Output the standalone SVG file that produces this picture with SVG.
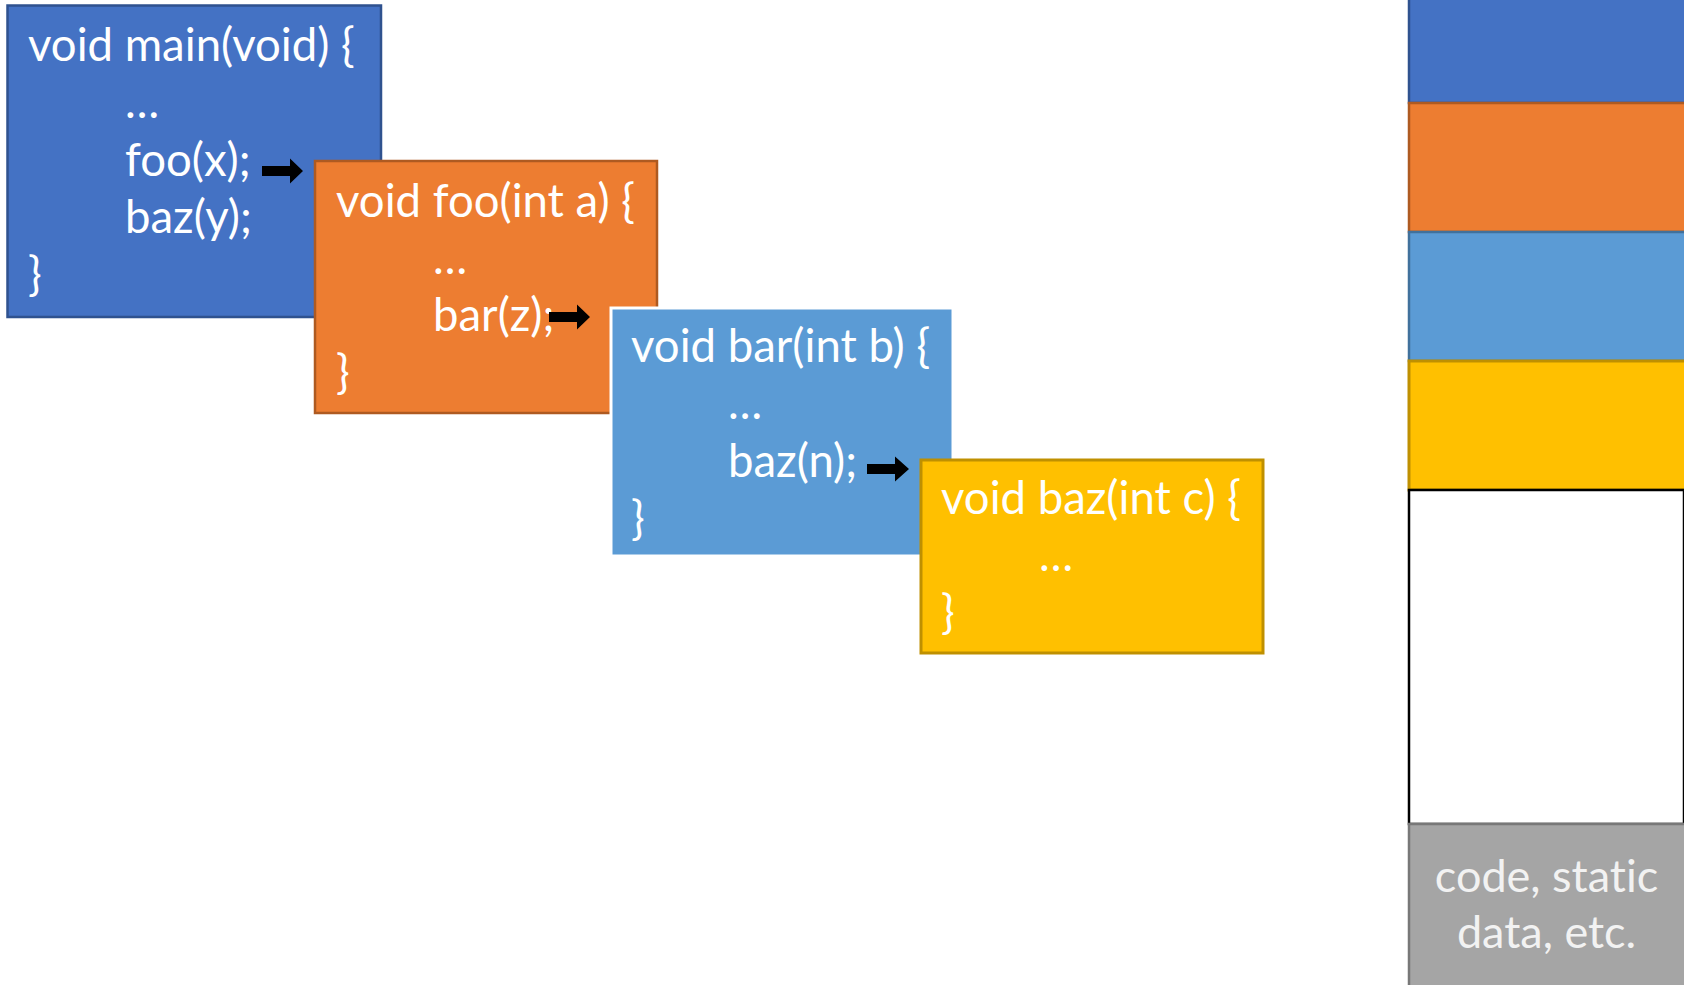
<svg xmlns="http://www.w3.org/2000/svg" width="1684" height="985" viewBox="0 0 1684 985">
  <defs>
    <style>
      .code { font-family: Lato, "Open Sans", "Liberation Sans", sans-serif; font-size: 45.5px; fill: #ffffff; font-variant-ligatures: none; }
      .label { font-family: Lato, "Open Sans", "Liberation Sans", sans-serif; font-size: 45px; fill: #f2f2f2; text-anchor: middle; font-variant-ligatures: none; }
      .main { fill: #4472C4; stroke: #2F528F; stroke-width: 2.5; }
      .foo { fill: #ED7D31; stroke: #AE5A21; stroke-width: 2.5; }
      .bar { fill: #5B9BD5; stroke: #ffffff; stroke-width: 3; }
      .bar-stack { fill: #5B9BD5; stroke: #41719C; stroke-width: 2.5; }
      .baz { fill: #FFC000; stroke: #BF9000; stroke-width: 3; }
      .free { fill: #ffffff; stroke: #000000; stroke-width: 2.5; }
      .static { fill: #A5A5A5; stroke: #787878; stroke-width: 2.5; }
      .call { fill: #000000; }
    </style>
  </defs>

  <rect width="1684" height="985" fill="#ffffff"/>

  <!-- call chain: one frame of source per function -->
  <g id="main-frame">
    <rect class="main" x="7.5" y="5.5" width="373.5" height="311.5"/>
    <text class="code" x="28" y="61">void main(void) {</text>
    <text class="code" x="125" y="118">…</text>
    <text class="code" x="125" y="176">foo(x);</text>
    <text class="code" x="125" y="233">baz(y);</text>
    <text class="code" x="28" y="290">}</text>
  </g>

  <g id="foo-frame">
    <rect class="foo" x="315" y="161" width="342" height="252"/>
    <text class="code" x="336" y="217">void foo(int a) {</text>
    <text class="code" x="433" y="274">…</text>
    <text class="code" x="433" y="331">bar(z);</text>
    <text class="code" x="336" y="388">}</text>
  </g>

  <g id="bar-frame">
    <rect class="bar" x="611" y="308" width="342" height="248"/>
    <text class="code" x="631" y="362">void bar(int b) {</text>
    <text class="code" x="728" y="419">…</text>
    <text class="code" x="728" y="477">baz(n);</text>
    <text class="code" x="631" y="534">}</text>
  </g>

  <g id="baz-frame">
    <rect class="baz" x="921" y="460" width="342" height="193"/>
    <text class="code" x="941" y="514">void baz(int c) {</text>
    <text class="code" x="1039" y="571">…</text>
    <text class="code" x="941" y="628">}</text>
  </g>

  <!-- call arrows -->
  <g id="connectors">
    <path class="call" d="M262,166 h28 v-7.5 l13,12.5 l-13,12.5 v-7.5 h-28 z"/>
    <path class="call" d="M549,312 h28 v-7.5 l13,12.5 l-13,12.5 v-7.5 h-28 z"/>
    <path class="call" d="M867,464 h28 v-7.5 l14,12.5 l-14,12.5 v-7.5 h-28 z"/>
  </g>

  <!-- memory column: stack frames on top, free space, then code/static data -->
  <g id="stack-main">
    <rect class="main" x="1409" y="-5" width="280" height="108"/>
  </g>
  <g id="stack-foo">
    <rect class="foo" x="1409" y="103" width="280" height="129"/>
  </g>
  <g id="stack-bar">
    <rect class="bar-stack" x="1409" y="232" width="280" height="129"/>
  </g>
  <g id="stack-baz">
    <rect class="baz" x="1409" y="361" width="280" height="129"/>
  </g>
  <g id="free-space">
    <rect class="free" x="1409" y="490" width="275" height="334"/>
  </g>
  <g id="static-area">
    <rect class="static" x="1409" y="824" width="280" height="170"/>
    <text class="label" x="1546.5" y="892">code, static</text>
    <text class="label" x="1546.5" y="948">data, etc.</text>
  </g>
</svg>
